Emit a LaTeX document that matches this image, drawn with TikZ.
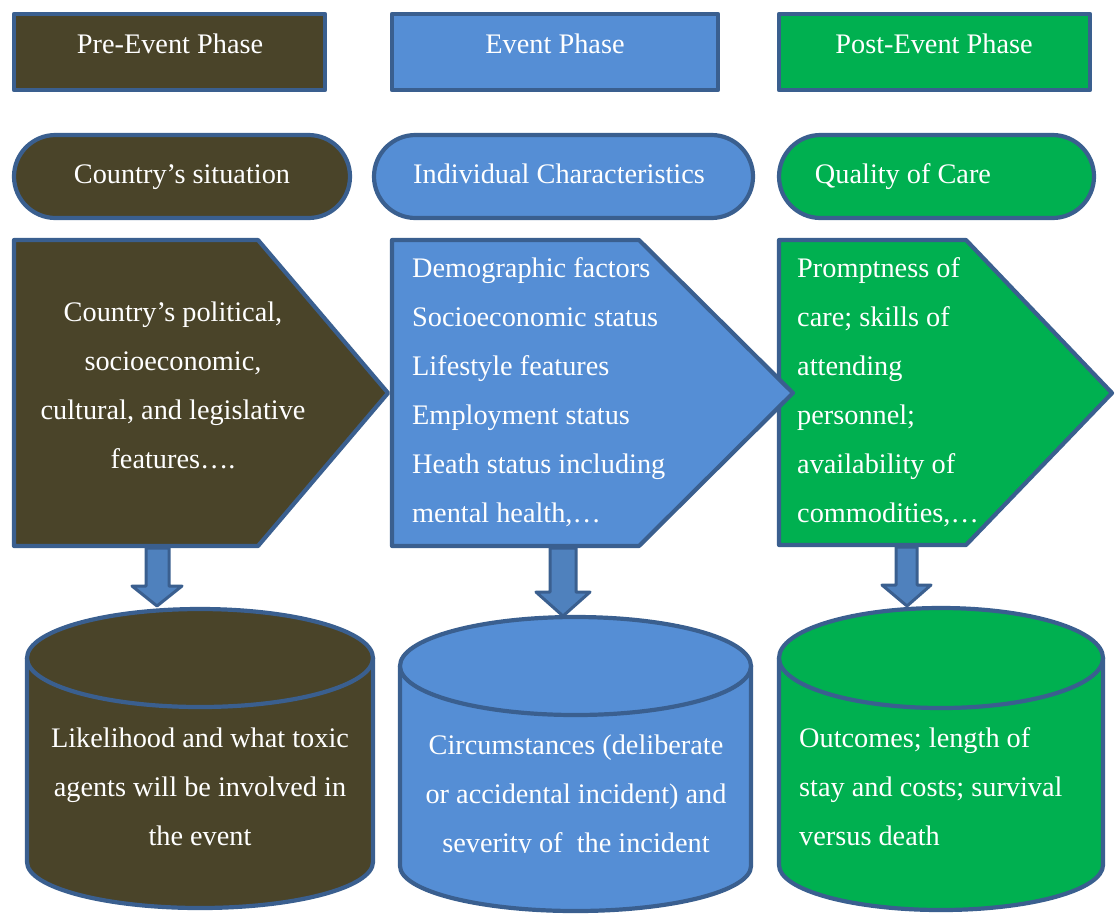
\documentclass[tikz,border=0pt]{standalone}
\usepackage{fontspec}
\setmainfont{Liberation Serif}
\definecolor{preC}{HTML}{4A4429}
\definecolor{evC}{HTML}{558ED5}
\definecolor{postC}{HTML}{00B050}
\definecolor{edgeC}{HTML}{3A5F8F}
\definecolor{arrC}{HTML}{4F81BD}
\begin{document}
\begin{tikzpicture}[x=1pt,y=-1pt,line join=round,
  bordered/.style={draw=edgeC,line width=4.2pt},
  blockarrow/.style={fill=arrC,draw=edgeC,line width=3pt},
  txt/.style={text=white,font=\fontsize{28.3}{49.1}\selectfont,inner sep=0pt}]
\useasboundingbox (0,0) rectangle (1115,914);
% phase headers
\path[bordered,fill=preC] (14,14) rectangle (325,90);
\path[bordered,fill=evC] (392,14) rectangle (718,90);
\path[bordered,fill=postC] (779,14) rectangle (1090,90);
\node[txt,anchor=base] (h1) at (170,53) {Pre-Event Phase};
\node[txt,anchor=base] (h2) at (555,53) {Event Phase};
\node[txt,anchor=base] (h3) at (934,53) {Post-Event Phase};
% rounded labels
\path[bordered,fill=preC,rounded corners=41.5pt] (14,135) rectangle (350,218);
\path[bordered,fill=evC,rounded corners=41.5pt] (374,135) rectangle (753,218);
\path[bordered,fill=postC,rounded corners=41.5pt] (779,135) rectangle (1094,218);
\node[txt,anchor=base] (r1) at (182,183) {Country’s situation};
\node[txt,anchor=base] (r2) at (559,183) {Individual Characteristics};
\node[txt,anchor=base] (r3) at (903,183) {Quality of Care};
% pentagons
\path[bordered,fill=preC] (14,240) -- (258,240) -- (388,393) -- (258,546) -- (14,546) -- cycle;
\path[bordered,fill=postC] (779,240) -- (966,240) -- (1112,393) -- (966,545) -- (779,545) -- cycle;
\path[bordered,fill=evC] (392,240) -- (639,240) -- (793,393) -- (639,546) -- (392,546) -- cycle;
\node[txt,anchor=base] (p1) at (173,321) {\begin{tabular}[t]{@{}c@{}}Country’s political,\\ socioeconomic,\\ cultural, and legislative\\ features….\end{tabular}};
\node[txt,anchor=base west] (p2) at (412,277) {\begin{tabular}[t]{@{}l@{}}Demographic factors\\ Socioeconomic status\\ Lifestyle features\\ Employment status\\ Heath status including\\ mental health,…\end{tabular}};
\node[txt,anchor=base west] (p3) at (797,277) {\begin{tabular}[t]{@{}l@{}}Promptness of\\ care; skills of\\ attending\\ personnel;\\ availability of\\ commodities,…\end{tabular}};
% cylinders
\path[bordered,fill=preC] (27,658) -- (27,862) arc[start angle=180,end angle=360,x radius=173pt,y radius=46pt] -- (373,658) -- cycle;
\path[bordered,fill=preC] (200,658) ellipse[x radius=173pt,y radius=49pt];
\path[bordered,fill=evC] (400,666) -- (400,866) arc[start angle=180,end angle=360,x radius=175.5pt,y radius=45pt] -- (751,666) -- cycle;
\path[bordered,fill=evC] (575.5,666) ellipse[x radius=175.5pt,y radius=49pt];
\path[bordered,fill=postC] (779,658) -- (779,865) arc[start angle=180,end angle=360,x radius=162pt,y radius=45pt] -- (1103,658) -- cycle;
\path[bordered,fill=postC] (941,658) ellipse[x radius=162pt,y radius=50pt];
\node[txt,anchor=base] (c1) at (200,747) {\begin{tabular}[t]{@{}c@{}}Likelihood and what toxic\\ agents will be involved in\\ the event\end{tabular}};
\begin{scope}
\clip (380,700) rectangle (770,852);
\node[txt,anchor=base] (c2) at (576,754) {\begin{tabular}[t]{@{}c@{}}Circumstances (deliberate\\ or accidental incident) and\\ severity of\ \ the incident\end{tabular}};
\end{scope}
\node[txt,anchor=base west] (c3) at (799,747) {\begin{tabular}[t]{@{}l@{}}Outcomes; length of\\ stay and costs; survival\\ versus death\end{tabular}};
% block arrows
\path[blockarrow] (146,548) -- (169,548) -- (169,586) -- (182,586) -- (157,606) -- (132,586) -- (146,586) -- cycle;
\path[blockarrow] (550,548) -- (576,548) -- (576,592) -- (590,592) -- (563,616) -- (536,592) -- (550,592) -- cycle;
\path[blockarrow] (896,547) -- (917,547) -- (917,585) -- (931,585) -- (907,606) -- (882,585) -- (896,585) -- cycle;
\end{tikzpicture}
\end{document}
